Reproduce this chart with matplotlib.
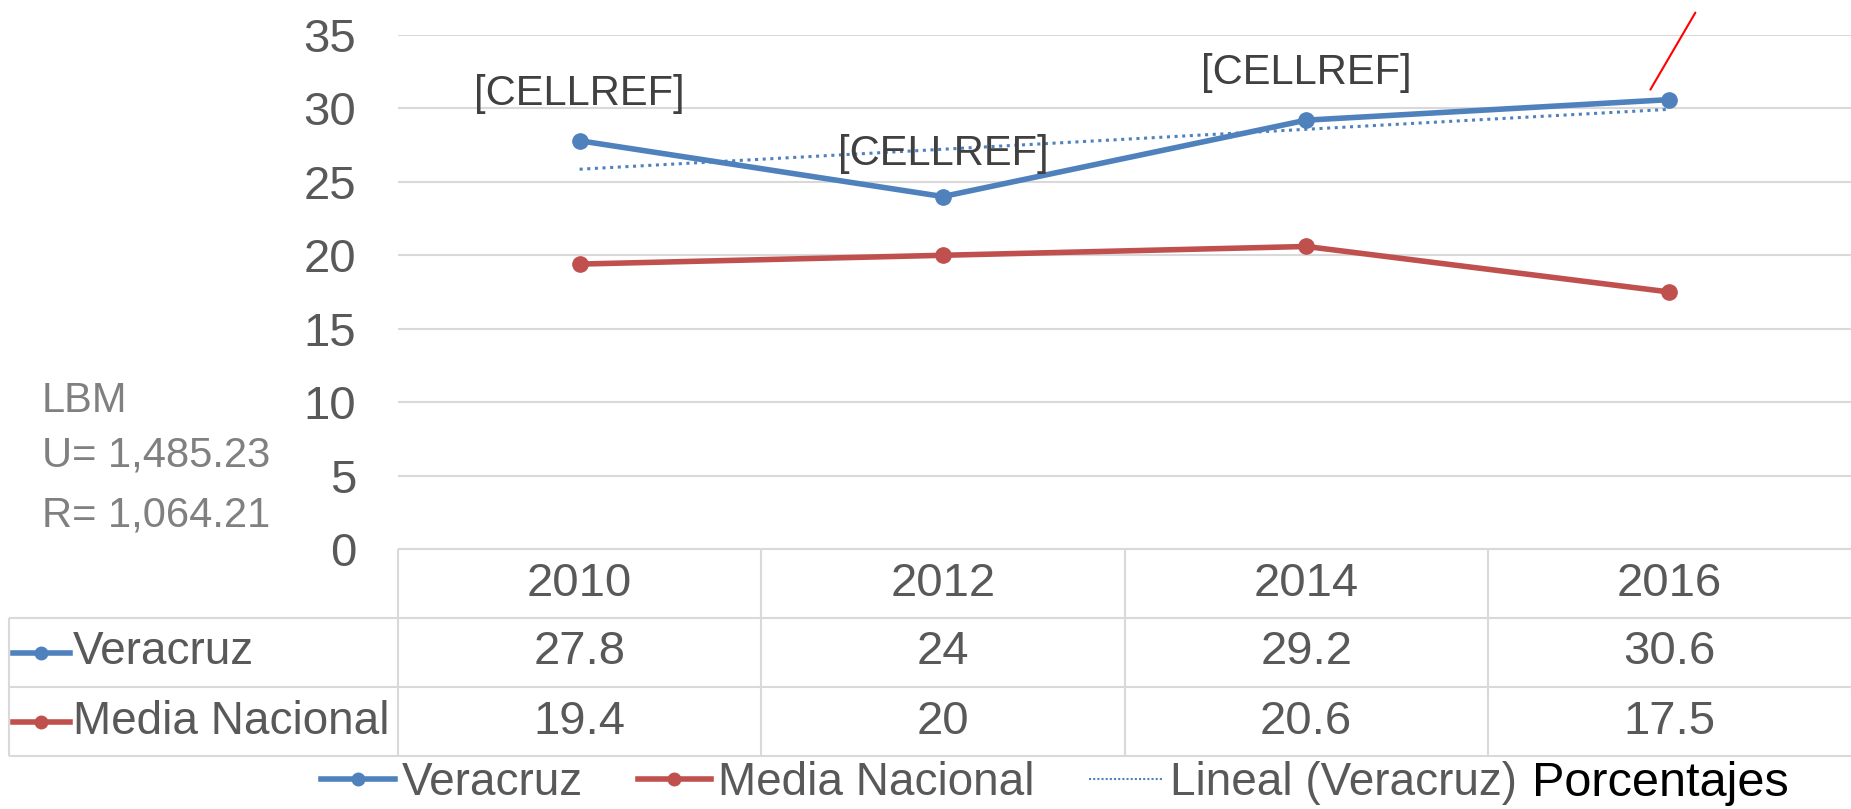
import numpy as np
import matplotlib.pyplot as plt
from matplotlib.lines import Line2D
from matplotlib.transforms import offset_copy

# Data
years = ['2010', '2012', '2014', '2016']
veracruz = [27.8, 24, 29.2, 30.6]
mediaNacional = [19.4, 20, 20.6, 17.5]
seriesNames = ['Veracruz', 'Media Nacional']
trendName = 'Lineal (Veracruz)'
axisTitle = 'Porcentajes'
pointLabels = ['[CELLREF]', '[CELLREF]', '[CELLREF]']
noteLines = ['LBM', 'U= 1,485.23', 'R= 1,064.21']
yTicks = [0, 5, 10, 15, 20, 25, 30, 35]

# Styles
blue = '#4F81BD'
red = '#C0504D'
txtGrey = '#595959'
gridGrey = '#D9D9D9'
fontName = ['Liberation Sans', 'DejaVu Sans']
fs = 33

plt.rcParams['font.family'] = fontName

W, H = 1851, 809
fig = plt.figure(figsize=(W/100, H/100), dpi=100)

# Plot area (pixel layout of the reference)
axL, axR, axT, axB = 398, 1851, 35, 549
ax = fig.add_axes([axL/W, (H-axB)/H, (axR-axL)/W, (axB-axT)/H])
x = np.arange(len(years))
ax.set_xlim(-0.5, len(years)-0.5)
ax.set_ylim(0, 35)
ax.set_yticks(yTicks)
ax.set_xticks([])
ax.tick_params(axis='y', length=0, pad=30, labelsize=34, labelcolor=txtGrey)
for s in ax.spines.values():
    s.set_visible(False)
ax.grid(axis='y', color=gridGrey, linewidth=1.5)
ax.set_axisbelow(True)

# Series
lineV, = ax.plot(x, veracruz, color=blue, linewidth=4, marker='o', markersize=11, zorder=3)
lineM, = ax.plot(x, mediaNacional, color=red, linewidth=4, marker='o', markersize=11, zorder=3)

# Linear trendline
coef = np.polyfit(x, veracruz, 1)
trend, = ax.plot(x, np.polyval(coef, x), color=blue, linewidth=2.2, linestyle=(0, (1, 1.5)), zorder=2)

# Data labels
labelOffsets = [47, 43, 47]
for i, lab in enumerate(pointLabels):
    ax.annotate(lab, xy=(x[i], veracruz[i]), xytext=(0, labelOffsets[i]), textcoords='offset pixels',
                ha='center', va='center', fontsize=30, color='#404040')

# Red leader line near the last point
lo = offset_copy(ax.transData, fig=fig, x=-19, y=10, units='dots')
hi = offset_copy(ax.transData, fig=fig, x=26, y=87, units='dots')
ax.annotate('', xy=(x[-1], veracruz[-1]), xycoords=lo, xytext=(x[-1], veracruz[-1]), textcoords=hi,
            arrowprops=dict(arrowstyle='-', color='red', linewidth=1.5, shrinkA=0, shrinkB=0),
            annotation_clip=False)

# Data table
tabL, tabB = 9, 756
colW = (axR-axL)/len(years)
tax = fig.add_axes([tabL/W, (H-tabB)/H, (W-tabL)/W, (tabB-axB)/H])
left = -0.5 - (axL-tabL)/colW
tax.set_xlim(left, len(years)-0.5)
tax.set_ylim(3, 0)
tax.set_axis_off()
k = 1/colW
tax.hlines(0, -0.5, len(years)-0.5, color=gridGrey, linewidth=1.5, clip_on=False)
tax.hlines([1, 2, 3], left, len(years)-0.5, color=gridGrey, linewidth=1.5, clip_on=False)
tax.vlines(x - 0.5, 0, 3, color=gridGrey, linewidth=1.5, clip_on=False)
tax.vlines(left, 1, 3, color=gridGrey, linewidth=1.5, clip_on=False)

for i, yr in enumerate(years):
    tax.text(x[i], 0.5, yr, ha='center', va='center', fontsize=34, color=txtGrey)
for r, (vals, col, name) in enumerate(zip([veracruz, mediaNacional], [blue, red], seriesNames)):
    yy = 1.5 + r
    tax.plot([left + 4*k, left + 61*k], [yy, yy], color=col, linewidth=4, clip_on=False)
    tax.plot([left + 32*k], [yy], marker='o', markersize=9, color=col, clip_on=False)
    tax.text(left + 64*k, yy, name, ha='left', va='center', fontsize=fs, color=txtGrey)
    for i, v in enumerate(vals):
        tax.text(x[i], yy, f'{v:g}', ha='center', va='center', fontsize=34, color=txtGrey)

# Side note
for j, t in enumerate(noteLines):
    fig.text(42/W, 1 - [401, 456, 516][j]/H, t, ha='left', va='center', fontsize=30, color='#808080')

# Legend
handles = [Line2D([], [], color=blue, linewidth=4, marker='o', markersize=9),
           Line2D([], [], color=red, linewidth=4, marker='o', markersize=9),
           Line2D([], [], color=blue, linewidth=1.5, linestyle=(0, (1, 1)))]
fig.legend(handles, seriesNames + [trendName], loc='center', bbox_to_anchor=(919/W, 1 - 783/H),
           ncol=3, frameon=False, fontsize=fs, handlelength=1.6, handletextpad=0.15,
           columnspacing=1.2, labelcolor=txtGrey, borderpad=0)
fig.text(1532/W, 1 - 783/H, axisTitle, ha='left', va='center', fontsize=35, color='black')

fig.savefig('out.png', dpi=100)
